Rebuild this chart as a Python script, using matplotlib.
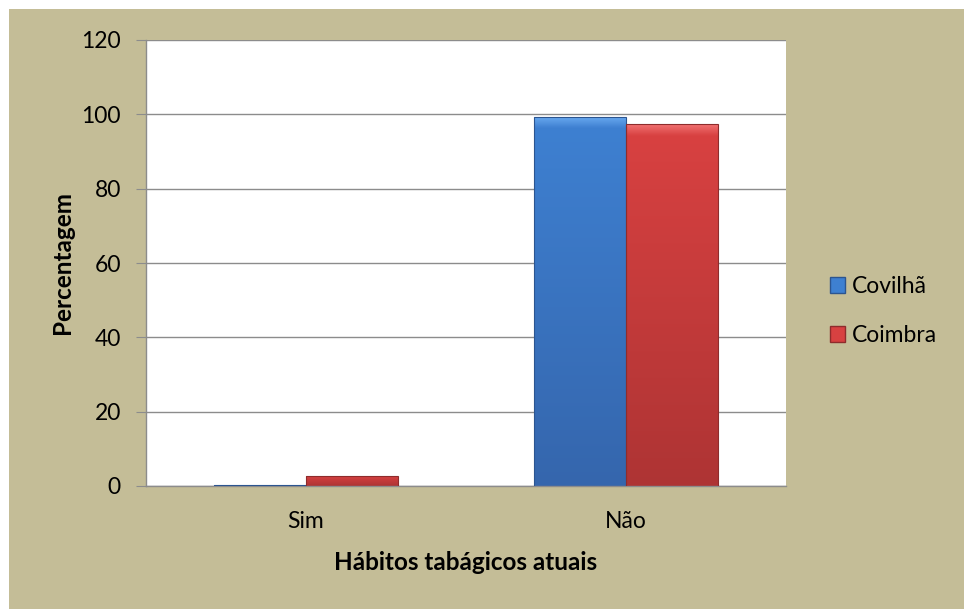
import matplotlib
matplotlib.use("Agg")
import numpy as np
import matplotlib.pyplot as plt
from matplotlib.patches import Rectangle, Patch
from matplotlib.colors import LinearSegmentedColormap

# DATA
CATEGORIES = ["Sim", "Não"]
COVILHA = [0.4, 99.4]
COIMBRA = [2.8, 97.3]
SERIES_NAMES = ["Covilhã", "Coimbra"]
Y_TICKS = [0, 20, 40, 60, 80, 100, 120]

BG = "#C4BD97"
C_BLUE = ("#3566AD", "#3E80D1", "#6AAAF0")   # bottom, top, bevel
C_RED = ("#AE3434", "#D84141", "#F07070")
EDGE_BLUE, EDGE_RED = "#2C5590", "#8E2C2C"
GRID = "#8C8C8C"

plt.rcParams["font.family"] = ["Lato", "DejaVu Sans"]


def shade_bars(ax, bars, colors):
    """Fill each bar with a vertical gradient, Excel-style."""
    bottom, top, bevel = colors
    cmap = LinearSegmentedColormap.from_list(
        "g", [(0, bottom), (0.97, top), (1.0, bevel)])
    grad = np.linspace(0, 1, 256).reshape(-1, 1)
    for b in bars:
        x0, y0 = b.get_x(), b.get_y()
        w, h = b.get_width(), b.get_height()
        b.set_facecolor("none")
        im = ax.imshow(grad, cmap=cmap, origin="lower", aspect="auto",
                       extent=(x0, x0 + w, y0, y0 + h), zorder=2.5,
                       interpolation="bilinear")
        im.set_clip_path(b)


fig = plt.figure(figsize=(9.64, 6.11), dpi=100)
fig.patch.set_facecolor("white")
W, H = 964, 611
fig.add_artist(Rectangle((9 / W, 2 / H), 1 - 9 / W, (609 - 9) / H,
                         transform=fig.transFigure, facecolor=BG,
                         edgecolor="none", zorder=-10))

ax = fig.add_axes([146 / W, (H - 486) / H, (786 - 146) / W, (486 - 40) / H])
ax.set_zorder(1)
ax.set_facecolor("white")

x = np.arange(len(CATEGORIES))
w = 0.2875
bars_a = ax.bar(x - w / 2, COVILHA, w, color=C_BLUE[1], edgecolor=EDGE_BLUE,
                lw=0.8, zorder=3)
bars_b = ax.bar(x + w / 2, COIMBRA, w, color=C_RED[1], edgecolor=EDGE_RED,
                lw=0.8, zorder=3)

shade_bars(ax, bars_a, C_BLUE)
shade_bars(ax, bars_b, C_RED)
ax.set_xlim(-0.5, len(CATEGORIES) - 0.5)
ax.set_ylim(0, 120)

ax.set_yticks(Y_TICKS)
ax.set_xticks(x)
ax.set_xticklabels(CATEGORIES)
ax.tick_params(axis="y", labelsize=16.5, length=7, color=GRID, pad=11)
ax.tick_params(axis="x", labelsize=16.5, length=0, pad=18)
ax.grid(axis="y", color=GRID, lw=1.0, zorder=0)

for side in ("top", "right"):
    ax.spines[side].set_visible(False)
for side in ("left", "bottom"):
    ax.spines[side].set_color(GRID)
    ax.spines[side].set_linewidth(1.0)

ax.set_ylabel("Percentagem", fontsize=17.5, fontweight="bold", labelpad=5.5)
ax.set_xlabel("Hábitos tabágicos atuais", fontsize=17.5, fontweight="bold",
              labelpad=14)

leg_handles = [Patch(facecolor=C_BLUE[1], edgecolor=EDGE_BLUE),
               Patch(facecolor=C_RED[1], edgecolor=EDGE_RED)]
ax.legend(leg_handles, SERIES_NAMES, loc="center left",
          bbox_to_anchor=(809 / W, (H - 311) / H),
          bbox_transform=fig.transFigure, frameon=False, fontsize=16.5,
          handlelength=0.67, handleheight=0.67, handletextpad=0.3,
          labelspacing=1.2)

fig.savefig("out.png", dpi=100)
